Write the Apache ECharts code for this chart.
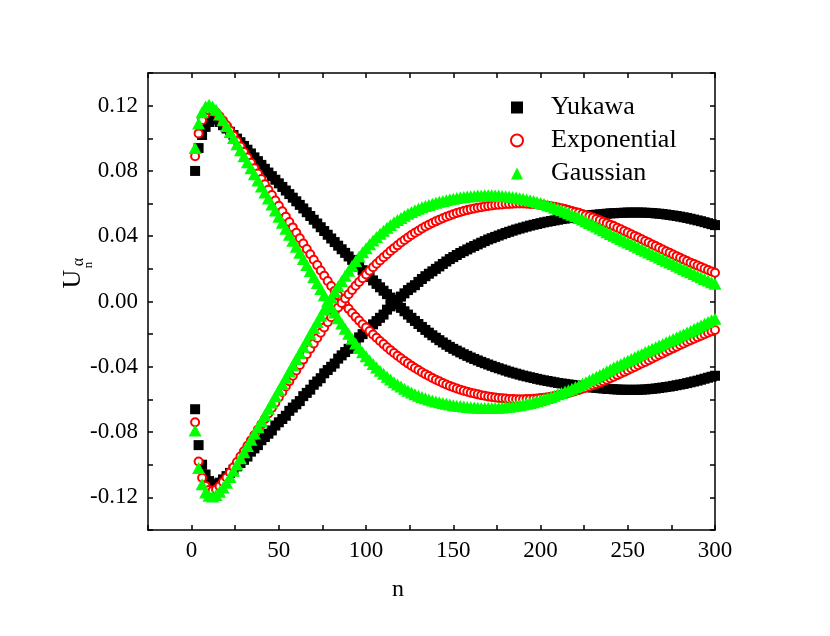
<!DOCTYPE html>
<html><head><meta charset="utf-8">
<script src="https://cdn.jsdelivr.net/npm/echarts@6/dist/echarts.min.js"></script>
<style>html,body{margin:0;padding:0;background:#fff}#c{width:830px;height:636px}</style>
</head><body><div id="c"></div>
<script>
const nValues = [
2,4,6,8,10,12,14,16,18,20,22,24,26,28,30,32,34,36,38,40,
42,44,46,48,50,52,54,56,58,60,62,64,66,68,70,72,74,76,78,80,
82,84,86,88,90,92,94,96,98,100,102,104,106,108,110,112,114,116,118,120,
122,124,126,128,130,132,134,136,138,140,142,144,146,148,150,152,154,156,158,160,
162,164,166,168,170,172,174,176,178,180,182,184,186,188,190,192,194,196,198,200,
202,204,206,208,210,212,214,216,218,220,222,224,226,228,230,232,234,236,238,240,
242,244,246,248,250,252,254,256,258,260,262,264,266,268,270,272,274,276,278,280,
282,284,286,288,290,292,294,296,298,300];

const yukawaUpper = [
0.080,0.094,0.102,0.107,0.110,0.112,0.1115,0.110,0.108,0.106,
0.104,0.102,0.0998,0.0976,0.0953,0.093,0.0907,0.0883,0.086,0.0837,
0.0813,0.079,0.0768,0.0746,0.0724,0.0702,0.068,0.0658,0.0636,0.0614,
0.0592,0.057,0.0547,0.0524,0.0501,0.0478,0.0455,0.0432,0.0409,0.0386,
0.0364,0.0342,0.032,0.0298,0.0276,0.0255,0.0234,0.0213,0.0192,0.0171,
0.015,0.0129,0.0108,0.0087,0.0066,0.0045,0.0024,0.0003,-0.0018,-0.0039,
-0.006,-0.008,-0.01,-0.0119,-0.0138,-0.0156,-0.0174,-0.0191,-0.0207,-0.0222,
-0.0237,-0.0251,-0.0265,-0.0278,-0.029,-0.0301,-0.0312,-0.0323,-0.0333,-0.0343,
-0.0352,-0.0361,-0.037,-0.0378,-0.0386,-0.0394,-0.0402,-0.0409,-0.0416,-0.0423,
-0.043,-0.0436,-0.0442,-0.0448,-0.0454,-0.0459,-0.0464,-0.0469,-0.0474,-0.0479,
-0.0483,-0.0487,-0.0491,-0.0495,-0.0499,-0.0502,-0.0505,-0.0508,-0.0511,-0.0514,
-0.0517,-0.052,-0.0522,-0.0525,-0.0527,-0.0529,-0.0531,-0.0533,-0.0535,-0.0536,
-0.0538,-0.0539,-0.054,-0.0541,-0.0541,-0.0541,-0.0541,-0.0541,-0.054,-0.0539,
-0.0537,-0.0535,-0.0533,-0.053,-0.0527,-0.0524,-0.0521,-0.0517,-0.0513,-0.0509,
-0.0505,-0.05,-0.0495,-0.049,-0.0485,-0.0479,-0.0473,-0.0467,-0.0461,-0.0455];

const yukawaLower = [
-0.066,-0.088,-0.100,-0.106,-0.110,-0.112,-0.112,-0.111,-0.109,-0.107,
-0.105,-0.103,-0.101,-0.099,-0.097,-0.095,-0.092,-0.090,-0.088,-0.085,
-0.083,-0.081,-0.079,-0.076,-0.074,-0.072,-0.070,-0.067,-0.065,-0.063,
-0.061,-0.058,-0.056,-0.054,-0.051,-0.049,-0.047,-0.044,-0.042,-0.040,
-0.038,-0.035,-0.033,-0.031,-0.029,-0.027,-0.024,-0.022,-0.020,-0.018,
-0.016,-0.014,-0.012,-0.010,-0.008,-0.005,-0.003,-0.001,0.001,0.003,
0.005,0.007,0.0085,0.010,0.012,0.0138,0.0155,0.017,0.0185,0.020,
0.0215,0.023,0.0245,0.026,0.0272,0.0285,0.0297,0.0308,0.0319,0.033,
0.034,0.035,0.036,0.037,0.038,0.0388,0.0396,0.0404,0.0412,0.042,
0.0427,0.0434,0.0441,0.0447,0.0453,0.0459,0.0465,0.047,0.0475,0.048,
0.0485,0.0489,0.0493,0.0497,0.0501,0.0505,0.0508,0.0511,0.0514,0.0517,
0.052,0.0523,0.0525,0.0528,0.053,0.0532,0.0534,0.0536,0.0538,0.054,
0.0541,0.0542,0.0543,0.0544,0.0545,0.0545,0.0545,0.0545,0.0545,0.0544,
0.0543,0.0542,0.054,0.0538,0.0536,0.0533,0.053,0.0527,0.0524,0.052,
0.0516,0.0512,0.0507,0.0502,0.0497,0.0492,0.0486,0.048,0.0474,0.0468];

const exponentialUpper = [
0.089,0.103,0.111,0.115,0.117,0.117,0.1158,0.1135,0.1108,0.108,
0.1048,0.1015,0.0982,0.0949,0.0916,0.0883,0.085,0.0817,0.0784,0.0751,
0.0718,0.0685,0.0652,0.0619,0.0586,0.0553,0.052,0.0487,0.0454,0.0421,
0.0388,0.0355,0.0322,0.0289,0.0256,0.0223,0.019,0.0158,0.0126,0.0095,
0.0065,0.0036,0.0008,-0.0019,-0.0045,-0.007,-0.0094,-0.0117,-0.0139,-0.016,
-0.0181,-0.0202,-0.0222,-0.0242,-0.0261,-0.028,-0.0298,-0.0315,-0.0332,-0.0348,
-0.0364,-0.0379,-0.0393,-0.0407,-0.042,-0.0433,-0.0445,-0.0457,-0.0468,-0.0479,
-0.0489,-0.0499,-0.0508,-0.0517,-0.0525,-0.0533,-0.054,-0.0547,-0.0553,-0.0559,
-0.0564,-0.0569,-0.0574,-0.0578,-0.0582,-0.0585,-0.0588,-0.0591,-0.0593,-0.0595,
-0.0597,-0.0598,-0.0599,-0.0599,-0.0599,-0.0598,-0.0597,-0.0596,-0.0594,-0.0592,
-0.0589,-0.0586,-0.0583,-0.0579,-0.0575,-0.057,-0.0565,-0.056,-0.0554,-0.0548,
-0.0542,-0.0535,-0.0528,-0.0521,-0.0513,-0.0505,-0.0497,-0.0488,-0.0479,-0.047,
-0.0461,-0.0451,-0.0441,-0.0431,-0.0421,-0.0411,-0.0401,-0.0391,-0.038,-0.037,
-0.036,-0.0349,-0.0339,-0.0328,-0.0318,-0.0307,-0.0297,-0.0287,-0.0277,-0.0267,
-0.0257,-0.0247,-0.0237,-0.0228,-0.0219,-0.021,-0.0201,-0.0192,-0.0183,-0.0175];

const exponentialLower = [
-0.074,-0.098,-0.108,-0.113,-0.1155,-0.116,-0.1152,-0.1132,-0.1106,-0.1078,
-0.1047,-0.1015,-0.0983,-0.095,-0.0917,-0.0884,-0.0851,-0.0818,-0.0785,-0.0752,
-0.0719,-0.0686,-0.0653,-0.062,-0.0587,-0.0554,-0.0521,-0.0488,-0.0455,-0.0422,
-0.0389,-0.0356,-0.0323,-0.029,-0.0257,-0.0224,-0.0191,-0.0159,-0.0127,-0.0096,
-0.0066,-0.0037,-0.0009,0.0018,0.0045,0.0071,0.0096,0.012,0.0143,0.0166,
0.0188,0.021,0.0231,0.0251,0.0271,0.029,0.0309,0.0327,0.0344,0.0361,
0.0377,0.0392,0.0407,0.0421,0.0434,0.0447,0.0459,0.047,0.0481,0.0491,
0.0501,0.051,0.0519,0.0527,0.0535,0.0542,0.0548,0.0554,0.056,0.0565,
0.057,0.0574,0.0578,0.0582,0.0585,0.0588,0.0591,0.0593,0.0595,0.0597,
0.0598,0.0599,0.06,0.06,0.06,0.0599,0.0598,0.0597,0.0595,0.0593,
0.059,0.0587,0.0584,0.058,0.0576,0.0571,0.0566,0.0561,0.0555,0.0549,
0.0543,0.0536,0.0529,0.0522,0.0514,0.0506,0.0498,0.0489,0.048,0.0471,
0.0462,0.0452,0.0442,0.0432,0.0422,0.0412,0.0402,0.0392,0.0381,0.0371,
0.0361,0.035,0.034,0.0329,0.0319,0.0308,0.0298,0.0288,0.0278,0.0268,
0.0258,0.0248,0.0238,0.0229,0.022,0.0211,0.0202,0.0193,0.0184,0.0176];

const gaussianUpper = [
0.094,0.109,0.116,0.1195,0.1205,0.1195,0.1175,0.1145,0.111,0.1075,
0.1038,0.1001,0.0964,0.0927,0.089,0.0853,0.0816,0.0779,0.0742,0.0705,
0.0668,0.0631,0.0594,0.0557,0.052,0.0483,0.0446,0.0409,0.0372,0.0335,
0.0298,0.0261,0.0224,0.0187,0.015,0.0113,0.0076,0.0039,0.0003,-0.0033,
-0.0068,-0.0102,-0.0135,-0.0167,-0.0198,-0.0228,-0.0257,-0.0285,-0.0311,-0.0336,
-0.036,-0.0383,-0.0404,-0.0424,-0.0443,-0.0461,-0.0478,-0.0494,-0.0508,-0.0521,
-0.0535,-0.0547,-0.0558,-0.0568,-0.0577,-0.0585,-0.0593,-0.06,-0.0606,-0.0612,
-0.0617,-0.0622,-0.0627,-0.0631,-0.0635,-0.0638,-0.0641,-0.0644,-0.0646,-0.0648,
-0.065,-0.0651,-0.0652,-0.0653,-0.0653,-0.0653,-0.0652,-0.0651,-0.0649,-0.0647,
-0.0645,-0.0642,-0.0639,-0.0635,-0.0631,-0.0627,-0.0622,-0.0617,-0.0611,-0.0605,
-0.0599,-0.0592,-0.0585,-0.0577,-0.0569,-0.0561,-0.0552,-0.0543,-0.0534,-0.0524,
-0.0514,-0.0504,-0.0494,-0.0483,-0.0472,-0.0461,-0.045,-0.0439,-0.0427,-0.0416,
-0.0405,-0.0394,-0.0384,-0.0373,-0.0363,-0.0352,-0.0342,-0.0331,-0.0321,-0.031,
-0.03,-0.029,-0.028,-0.027,-0.026,-0.025,-0.024,-0.023,-0.022,-0.021,
-0.02,-0.019,-0.018,-0.0169,-0.0158,-0.0147,-0.0136,-0.0126,-0.0115,-0.0105];

const gaussianLower = [
-0.079,-0.102,-0.112,-0.117,-0.119,-0.1195,-0.1185,-0.1165,-0.114,-0.111,
-0.1075,-0.1037,-0.0999,-0.0961,-0.0923,-0.0885,-0.0847,-0.0809,-0.0771,-0.0733,
-0.0695,-0.0657,-0.0619,-0.0581,-0.0543,-0.0505,-0.0467,-0.0429,-0.0391,-0.0353,
-0.0315,-0.0277,-0.0239,-0.0201,-0.0163,-0.0125,-0.0087,-0.0049,-0.0012,0.0024,
0.0059,0.0093,0.0126,0.0158,0.0189,0.0219,0.0248,0.0276,0.0302,0.0327,
0.0351,0.0374,0.0395,0.0415,0.0434,0.0452,0.0469,0.0485,0.0499,0.0512,
0.0526,0.0538,0.0549,0.0559,0.0568,0.0577,0.0585,0.0592,0.0599,0.0605,
0.0611,0.0616,0.0621,0.0626,0.063,0.0634,0.0637,0.064,0.0643,0.0645,
0.0647,0.0649,0.065,0.0651,0.0651,0.0651,0.065,0.0649,0.0647,0.0645,
0.0643,0.064,0.0637,0.0633,0.0629,0.0625,0.062,0.0615,0.0609,0.0603,
0.0597,0.059,0.0583,0.0575,0.0567,0.0559,0.055,0.0541,0.0532,0.0522,
0.0512,0.0502,0.0492,0.0481,0.047,0.0459,0.0448,0.0437,0.0425,0.0414,
0.0403,0.0393,0.0383,0.0372,0.0362,0.0352,0.0342,0.0331,0.0321,0.0311,
0.03,0.029,0.028,0.027,0.026,0.025,0.0239,0.0229,0.0219,0.0209,
0.0199,0.0189,0.0179,0.0168,0.0158,0.0148,0.0138,0.0128,0.0118,0.0108];

const seriesNames = ['Yukawa', 'Exponential', 'Gaussian'];

function pairs(ys) { return nValues.map((n, i) => [n, ys[i]]); }

const FONT = '"Liberation Serif", "Times New Roman", serif';
const lineStyle = { color: '#000', width: 1.5 };

function makeX(pos, showLabel) {
  return {
    type: 'value', position: pos, min: -25, max: 300, interval: 25,
    axisLine: { show: true, onZero: false, lineStyle },
    axisTick: { show: true, inside: true, length: 5, lineStyle },
    axisLabel: {
      show: showLabel, color: '#000', fontFamily: FONT, fontSize: 23, margin: 9,
      formatter: v => (Math.round(v) % 50 === 0 ? String(Math.round(v)) : '')
    },
    splitLine: { show: false }
  };
}
function makeY(pos, showLabel) {
  return {
    type: 'value', position: pos, min: -0.14, max: 0.14, interval: 0.02,
    axisLine: { show: true, onZero: false, lineStyle },
    axisTick: { show: true, inside: true, length: 5, lineStyle },
    axisLabel: {
      show: showLabel, color: '#000', fontFamily: FONT, fontSize: 23, margin: 10,
      formatter: v => {
        const k = Math.round(v * 100);
        if (k % 4 !== 0) return '';
        if (k === 0) return '0.00';
        return (k / 100).toFixed(2);
      }
    },
    splitLine: { show: false }
  };
}

const yukStyle = { type: 'scatter', name: seriesNames[0], symbol: 'rect', symbolSize: 10,
  itemStyle: { color: '#000', opacity: 1 } };
const expStyle = { type: 'scatter', name: seriesNames[1], symbol: 'circle', symbolSize: 8,
  itemStyle: { color: '#fff', borderColor: '#ff0000', borderWidth: 2, opacity: 1 } };
const gauStyle = { type: 'scatter', name: seriesNames[2], symbol: 'triangle', symbolSize: [13, 12],
  itemStyle: { color: '#00ff00', opacity: 1 } };

const chart = echarts.init(document.getElementById('c'), null, { renderer: 'canvas' });
chart.setOption({
  animation: false,
  backgroundColor: '#fff',
  grid: { left: 148, right: 115, top: 73, bottom: 106 },
  xAxis: [makeX('bottom', true), makeX('top', false)],
  yAxis: [makeY('left', true), makeY('right', false)],
  legend: {
    orient: 'vertical', left: 505, top: 89,
    itemWidth: 12, itemHeight: 12, itemGap: 6,
    itemStyle: { opacity: 1 },
    textStyle: { fontFamily: FONT, fontSize: 26, color: '#000', lineHeight: 27, padding: [0, 0, 0, 23] },
    data: seriesNames
  },
  series: [
    Object.assign({}, yukStyle, { data: pairs(yukawaUpper) }),
    Object.assign({}, yukStyle, { data: pairs(yukawaLower) }),
    Object.assign({}, expStyle, { data: pairs(exponentialUpper) }),
    Object.assign({}, expStyle, { data: pairs(exponentialLower) }),
    Object.assign({}, gauStyle, { data: pairs(gaussianUpper) }),
    Object.assign({}, gauStyle, { data: pairs(gaussianLower) })
  ],
  graphic: [
    { type: 'text', x: 398, y: 590, style: { text: 'n', font: '24px ' + FONT, fill: '#000', align: 'center', verticalAlign: 'middle' } },
    { type: 'text', x: 73, y: 279, rotation: Math.PI / 2, style: { text: 'U', font: '26px ' + FONT, fill: '#000', align: 'center', verticalAlign: 'middle' } },
    { type: 'text', x: 79, y: 262, rotation: Math.PI / 2, style: { text: 'α', font: '16px ' + FONT, fill: '#000', align: 'center', verticalAlign: 'middle' } },
    { type: 'text', x: 89, y: 265, rotation: Math.PI / 2, style: { text: 'n', font: '13px ' + FONT, fill: '#000', align: 'center', verticalAlign: 'middle' } }
  ]
});
</script>
</body></html>
